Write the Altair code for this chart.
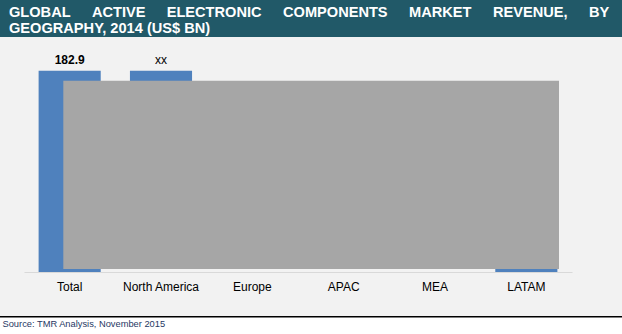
import altair as alt
import pandas as pd

# ---- data ----
categories = ["Total", "North America", "Europe", "APAC", "MEA", "LATAM"]
values = [182.9, 52.0, 41.5, 68.2, 7.1, 14.1]   # hidden segments estimated
labels = ["182.9", "xx", "xx", "xx", "xx", "xx"]

title_line1 = ["GLOBAL", "ACTIVE", "ELECTRONIC", "COMPONENTS", "MARKET", "REVENUE,", "BY"]
title_line2 = "GEOGRAPHY, 2014 (US$ BN)"
source_text = "Source: TMR Analysis, November 2015"

# waterfall start / end
rows = []
running = values[0]
for i, (c, v, l) in enumerate(zip(categories, values, labels)):
    if i == 0:
        start, end = 0.0, v
    else:
        end = running
        start = running - v
        running = start
    rows.append({"cat": c, "start": start, "end": end, "label": l, "is_total": i == 0})
df = pd.DataFrame(rows)

# ---- styles ----
FONT = "Arial, Liberation Sans, sans-serif"
BLUE = "#4f81bd"
TEAL = "#215968"
MASK = "#a6a6a6"
BG = "#f2f2f2"
PAD_L, PAD_T = 24, 41
W, H = 548, 231
word_x = [9, 92, 166.7, 283, 409, 493, 589]

one = alt.Data(values=[{"k": 1}])

xenc = alt.X("cat:N", sort=categories, title=None,
             scale=alt.Scale(paddingInner=0.32, paddingOuter=0.16),
             axis=alt.Axis(labelAngle=0, ticks=False, domainColor="#d9d9d9",
                           domainWidth=1, zindex=1,
                           labelFont=FONT, labelFontSize=12, labelColor="#000000",
                           labelPadding=9))
yscale = alt.Scale(domain=[0, 210])

bg = alt.Chart(one).mark_rect(color=BG).encode(
    x=alt.value(-PAD_L), x2=alt.value(622 - PAD_L),
    y=alt.value(37 - PAD_T), y2=alt.value(316.5 - PAD_T))

title_bar = alt.Chart(one).mark_rect(color=TEAL).encode(
    x=alt.value(-PAD_L), x2=alt.value(622 - PAD_L),
    y=alt.value(-PAD_T), y2=alt.value(37 - PAD_T))

title_layers = []
for w, px in zip(title_line1, word_x):
    title_layers.append(
        alt.Chart(one).mark_text(text=w, font=FONT, fontSize=14.6, fontWeight="bold",
                                 color="white", align="left", baseline="alphabetic")
        .encode(x=alt.value(px - PAD_L), y=alt.value(17 - PAD_T)))
title_layers.append(
    alt.Chart(one).mark_text(text=title_line2, font=FONT, fontSize=14.6, fontWeight="bold",
                             color="white", align="left", baseline="alphabetic")
    .encode(x=alt.value(9 - PAD_L), y=alt.value(33 - PAD_T)))

bars = alt.Chart(df).mark_bar(color=BLUE).encode(
    x=xenc,
    y=alt.Y("start:Q", scale=yscale, axis=None),
    y2="end:Q")

lab_total = alt.Chart(df).transform_filter("datum.is_total").mark_text(
    font=FONT, fontSize=12, fontWeight="bold", color="#000000", baseline="alphabetic", dy=-7
).encode(x=alt.X("cat:N", sort=categories), y=alt.Y("end:Q", scale=yscale), text="label:N")

lab_other = alt.Chart(df).transform_filter("!datum.is_total").mark_text(
    font=FONT, fontSize=12, color="#000000", baseline="alphabetic", dy=-7
).encode(x=alt.X("cat:N", sort=categories), y=alt.Y("end:Q", scale=yscale), text="label:N")

mask = alt.Chart(one).mark_rect(color=MASK).encode(
    x=alt.value(63.3 - PAD_L), x2=alt.value(559 - PAD_L),
    y=alt.value(80.7 - PAD_T), y2=alt.value(269 - PAD_T))

rule = alt.Chart(one).mark_rule(color="#000000", strokeWidth=1.5).encode(
    x=alt.value(-PAD_L), x2=alt.value(622 - PAD_L), y=alt.value(316.8 - PAD_T))

source = alt.Chart(one).mark_text(text=source_text, font=FONT, fontSize=9.3, color="#1f3864",
                                  align="left", baseline="alphabetic").encode(
    x=alt.value(2.5 - PAD_L), y=alt.value(327 - PAD_T))

chart = alt.layer(bg, title_bar, *title_layers, bars, lab_total, lab_other, mask, rule, source).properties(
    width=W, height=H,
    autosize=alt.AutoSizeParams(type="none"),
    padding={"left": PAD_L, "top": PAD_T, "right": 622 - PAD_L - W, "bottom": 334 - PAD_T - H},
    background="white",
).configure_view(stroke=None)

chart.save("out.html", embed_options={"renderer": "svg", "actions": False})
